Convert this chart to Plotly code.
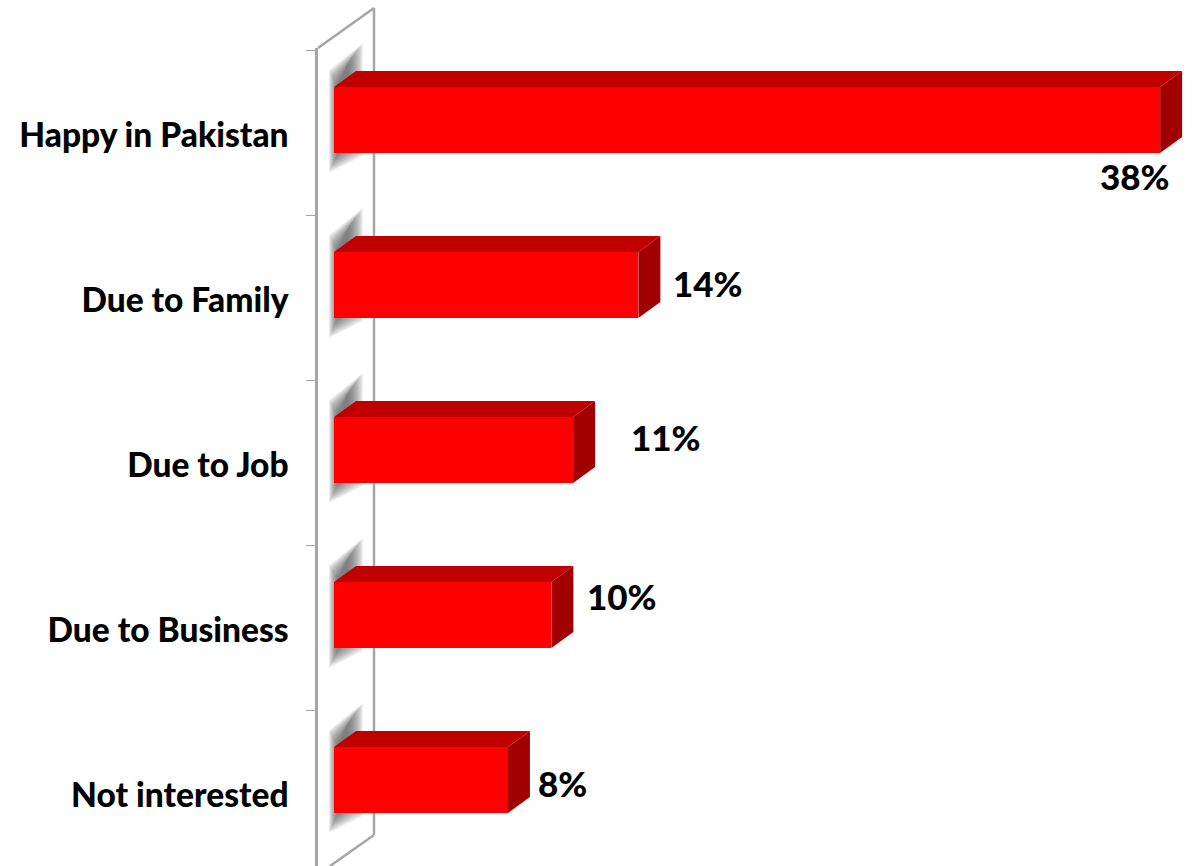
import plotly.graph_objects as go

# Data
categories = ['Happy in Pakistan', 'Due to Family', 'Due to Job', 'Due to Business', 'Not interested']
values = [38, 14, 11, 10, 8]
value_labels = ['38%', '14%', '11%', '10%', '8%']

# Canvas and scale (pixels)
W, H = 1193, 866
LEFT, TOP = 318, 48
PX_PER_UNIT = 21.74
PX_PER_CAT = 165
ZERO_PX = 334
FIRST_CAT_PX = 120
DEPTH_X = 22 / PX_PER_UNIT
DEPTH_Y = 16 / PX_PER_CAT
BAR_W = 66 / PX_PER_CAT

x_range = [(LEFT - ZERO_PX) / PX_PER_UNIT, (W - ZERO_PX) / PX_PER_UNIT]
y_range = [(H - FIRST_CAT_PX) / PX_PER_CAT, (TOP - FIRST_CAT_PX) / PX_PER_CAT]
ypos = list(range(len(categories)))


def px(x):
    return (x - LEFT) / (W - LEFT)


def py(y):
    return 1 - (y - TOP) / (H - TOP)


fig = go.Figure()

# -----------------------------------------
# Front faces
# -----------------------------------------
fig.add_trace(go.Bar(
    x=values, y=ypos, orientation='h', width=BAR_W,
    marker=dict(color='#ff0000', line=dict(width=0)),
    showlegend=False, hoverinfo='skip',
))

# -----------------------------------------
# Top and side faces, built from the values
# -----------------------------------------
for v, i in zip(values, ypos):
    t, b = i - BAR_W / 2, i + BAR_W / 2
    fig.add_trace(go.Scatter(
        x=[0, DEPTH_X, v + DEPTH_X, v, 0], y=[t, t - DEPTH_Y, t - DEPTH_Y, t, t],
        fill='toself', fillcolor='#c00000', mode='lines', line=dict(width=0),
        showlegend=False, hoverinfo='skip', cliponaxis=False,
    ))
    fig.add_trace(go.Scatter(
        x=[v, v + DEPTH_X, v + DEPTH_X, v, v], y=[t, t - DEPTH_Y, b - DEPTH_Y, b, t],
        fill='toself', fillcolor='#a00000', mode='lines', line=dict(width=0),
        showlegend=False, hoverinfo='skip', cliponaxis=False,
    ))

shapes = []

# -----------------------------------------
# Soft shadows on the wall (stacked translucent shapes, no blur in plotly)
# -----------------------------------------
for i in ypos:
    cy = FIRST_CAT_PX + PX_PER_CAT * i
    for k in range(16):
        x0, x1 = 329 + k * 0.6, 363 - k * 1.0
        yt0, yt1 = cy - 50 + k * 1.0, cy - 77 + k * 1.3
        yb0, yb1 = cy + 53 - k * 1.3, cy + 36 - k * 1.0
        corners = [(x0, yt0), (x1, yt1), (x1, yb1), (x0, yb0)]
        path = 'M' + ' L'.join(f'{px(a)},{py(b)}' for a, b in corners) + ' Z'
        shapes.append(dict(
            type='path', xref='paper', yref='paper', layer='below', path=path,
            fillcolor='rgba(90,90,90,0.085)', line=dict(width=0),
        ))

# -----------------------------------------
# Wall outline
# -----------------------------------------
wall = [(318, 48), (374, 8), (374, 835), (330, 866)]
for (a, b), (c, d) in zip(wall[:-1], wall[1:]):
    shapes.append(dict(
        type='line', xref='paper', yref='paper',
        x0=px(a), y0=py(b), x1=px(c), y1=py(d),
        line=dict(color='#a6a6a6', width=2.5), layer='below',
    ))

# -----------------------------------------
# Value labels
# -----------------------------------------
label_shift = [(-25, -56), (70, 2), (93, 13), (71, 19), (55, -3)]
annotations = []
for v, i, txt, (dx, dy) in zip(values, ypos, value_labels, label_shift):
    annotations.append(dict(
        x=v, y=i, xref='x', yref='y', text=txt, showarrow=False,
        xshift=dx, yshift=dy,
        font=dict(family='Lato', size=35, color='black', weight=900),
    ))

fig.update_layout(
    width=W, height=H,
    margin=dict(l=LEFT, r=0, t=TOP, b=0, pad=0),
    paper_bgcolor='white', plot_bgcolor='rgba(0,0,0,0)',
    shapes=shapes, annotations=annotations,
    bargap=0,
    xaxis=dict(range=x_range, visible=False),
    yaxis=dict(
        range=y_range,
        tickmode='array', tickvals=[i + 15 / PX_PER_CAT for i in ypos], ticktext=categories,
        ticks='', ticklabelstandoff=20,
        tickfont=dict(family='Lato', size=33.5, color='black', weight=900),
        showgrid=False, zeroline=False,
        showline=True, linecolor='#a6a6a6', linewidth=2.5,
        minor=dict(
            tickmode='array', tickvals=[i - 0.424 for i in ypos],
            ticks='outside', ticklen=9, tickwidth=1, tickcolor='#a6a6a6', showgrid=False,
        ),
    ),
)

fig.write_html(
    "out.html",
    config={'displayModeBar': False},
    post_script="document.body.style.margin='0';document.body.style.overflow='hidden';",
)
